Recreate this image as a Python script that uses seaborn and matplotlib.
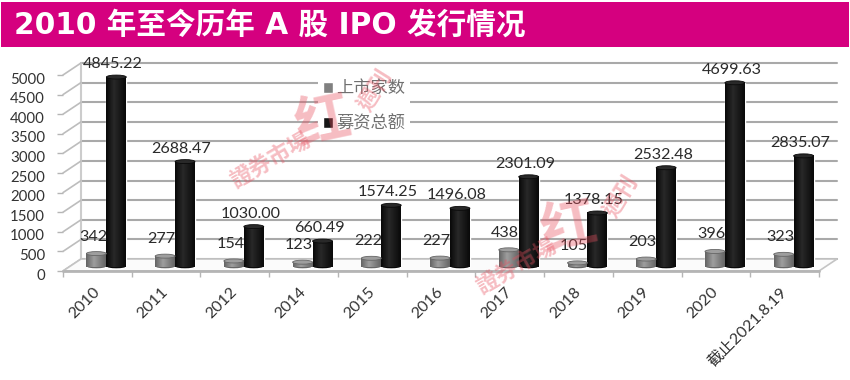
import numpy as np
import pandas as pd
import seaborn as sns
import matplotlib.pyplot as plt
from matplotlib.patches import Ellipse, Rectangle, Polygon
from matplotlib.transforms import ScaledTranslation

years = ['2010', '2011', '2012', '2014', '2015', '2016', '2017', '2018', '2019', '2020', '截止2021.8.19']
listed = [342, 277, 154, 123, 222, 227, 438, 105, 203, 396, 323]
raised = [4845.22, 2688.47, 1030.00, 660.49, 1574.25, 1496.08, 2301.09, 1378.15, 2532.48, 4699.63, 2835.07]
yticks = [0, 500, 1000, 1500, 2000, 2500, 3000, 3500, 4000, 4500, 5000]
title = '2010 年至今历年 A 股 IPO 发行情况'
names = ['上市家数', '募资总额']

W, H = 850, 380
fonts = ['Lato', 'Noto Sans CJK SC', 'DejaVu Sans']

sns.set_theme(style='white')
plt.rcParams['font.family'] = fonts

df = pd.DataFrame({
    'year': years * 2,
    'value': listed + raised,
    'series': [names[0]] * len(years) + [names[1]] * len(years),
})

fig = plt.figure(figsize=(W / 100, H / 100), dpi=100)
ax = fig.add_axes([63 / W, 1 - 271 / H, 756 / W, 196 / H])

sns.barplot(data=df, x='year', y='value', hue='series', palette=['#808080', '#161616'],
            width=0.58, gap=0, saturation=1, ax=ax, zorder=3)
ax.set_xlim(-0.5, 10.5)
ax.set_ylim(0, 5000)
ax.set_xlabel('')
ax.set_ylabel('')


def px(dx, dy):
    return ax.transData + ScaledTranslation(dx / 100, dy / 100, fig.dpi_scale_trans)


per_px = 5000 / 196
bar_shift = px(9, 4)
back = px(18, 12)

# back wall, side wall and floor
grid_c = '#a9a9a9'
for v in yticks:
    ax.plot([-0.5, 10.5], [v, v], color=grid_c, lw=1.5, transform=back, zorder=1, clip_on=False)
ax.plot([-0.5, -0.5], [0, 5000], color='#cccccc', lw=1.5, transform=back, zorder=1, clip_on=False)
dx_cat = 18 / 68.73
dy_val = 12 * per_px
for v in yticks:
    ax.plot([-0.5, -0.5 + dx_cat], [v, v + dy_val], color='#bdbdbd', lw=1.2, zorder=1, clip_on=False)
ax.add_patch(Polygon([(-0.5, 0), (10.5, 0), (10.5 + dx_cat, dy_val), (-0.5 + dx_cat, dy_val)],
                     closed=True, facecolor='#fbfbfb', edgecolor='#c4c4c4', lw=1.2, zorder=1, clip_on=False))
ax.plot([-0.5, 10.5], [0, 0], color='#b5b5b5', lw=2, zorder=2, clip_on=False)

# cylinders: gradient clipped to each bar plus round caps
shades = [(0.40, 0.62), (0.04, 0.16)]
for cont, (lo, hi) in zip(ax.containers, shades):
    for bar in cont:
        bar.set_transform(bar_shift)
        bar.set_clip_on(False)
        x0, w, h = bar.get_x(), bar.get_width(), bar.get_height()
        grad = np.interp(np.linspace(0, 1, 24), [0, 0.4, 1], [lo, hi, lo])[None, :]
        im = ax.imshow(grad, cmap='gray', vmin=0, vmax=1, aspect='auto', extent=(x0, x0 + w, 0, h),
                       transform=bar_shift, zorder=3.2, clip_on=False)
        im.set_clip_path(Rectangle((x0, 0), w, h, transform=bar_shift))
        cap_h = 4 * per_px
        ax.add_patch(Ellipse((x0 + w / 2, 0), w, cap_h, facecolor=(lo, lo, lo), transform=bar_shift,
                             zorder=3.1, clip_on=False))
        ax.add_patch(Ellipse((x0 + w / 2, h), w, cap_h, facecolor=(hi, hi, hi), edgecolor=(lo, lo, lo),
                             lw=0.6, transform=bar_shift, zorder=3.3, clip_on=False))
ax.set_xlim(-0.5, 10.5)
ax.set_ylim(0, 5000)

# value labels
for cont, vals, dy, fmt in zip(ax.containers, [listed, raised], [14, 10], ['{:.0f}', '{:.2f}']):
    for bar, v in zip(cont, vals):
        ax.annotate(fmt.format(v), (bar.get_x() + bar.get_width() / 2, bar.get_height()),
                    xytext=(4, dy * 0.72), textcoords='offset points',
                    ha='center', va='bottom', fontsize=11.6, color='#2a2a2a', zorder=6)

# axes ticks and labels
sns.despine(ax=ax, left=True, bottom=True)
ax.set_yticks(yticks)
ax.set_xticks(range(len(years)))
ax.set_xticklabels(years, rotation=45, ha='right', rotation_mode='anchor', fontsize=11.5, color='#333333')
ax.tick_params(axis='x', length=0, pad=10)
ax.set_xticks(np.arange(-0.5, 11), minor=True)
ax.tick_params(axis='x', which='minor', length=4, width=1, color='#b5b5b5', bottom=True)
ax.tick_params(axis='y', length=4, width=1, color='#b5b5b5', left=True, pad=9, labelsize=10.8, labelcolor='#333333')
for lab in ax.get_yticklabels():
    lab.set_transform(lab.get_transform() + ScaledTranslation(0, -0.03, fig.dpi_scale_trans))
for lab in ax.get_xticklabels():
    lab.set_transform(lab.get_transform() + ScaledTranslation(-0.05, 0, fig.dpi_scale_trans))

# legend
handles, _ = ax.get_legend_handles_labels()
leg = ax.legend(handles, names, loc='upper left', bbox_to_anchor=((318 - 63) / 756, (271 - 75) / 196),
                frameon=True, facecolor='white', edgecolor='none', framealpha=1, fontsize=12.4,
                handlelength=0.55, handleheight=0.6, handletextpad=0.2, labelspacing=1.1,
                borderpad=0.3, borderaxespad=0)
leg.set_zorder(2.5)
for t in leg.get_texts():
    t.set_color('#707070')

# title band
fig.patches.append(Rectangle((1 / W, 1 - 47 / H), 848 / W, 45 / H, transform=fig.transFigure,
                             facecolor='#d5007f', edgecolor='none', figure=fig))
fig.text(14 / W, 1 - 25 / H, title, color='white', fontsize=21.3, fontweight='bold', va='center', ha='left',
         family=['DejaVu Sans', 'Noto Sans CJK SC'])

# watermarks
wm = '#e8505f'
for ox, oy in [(0, 0), (246, 106)]:
    fig.text((270 + ox) / W, 1 - (160 + oy) / H, '證券市場', color=wm, alpha=0.38, fontsize=16, rotation=30,
             ha='center', va='center', family='Noto Sans CJK TC', zorder=8, fontweight='bold')
    fig.text((323 + ox) / W, 1 - (123 + oy) / H, '红', color=wm, alpha=0.38, fontsize=40, rotation=12,
             ha='center', va='center', family='Noto Sans CJK TC', zorder=8, fontweight='bold')
    fig.text((376 + ox) / W, 1 - (90 + oy) / H, '週刊', color=wm, alpha=0.38, fontsize=16, rotation=58,
             ha='center', va='center', family='Noto Sans CJK TC', zorder=8, fontweight='bold')

fig.savefig('out.png', dpi=100)
